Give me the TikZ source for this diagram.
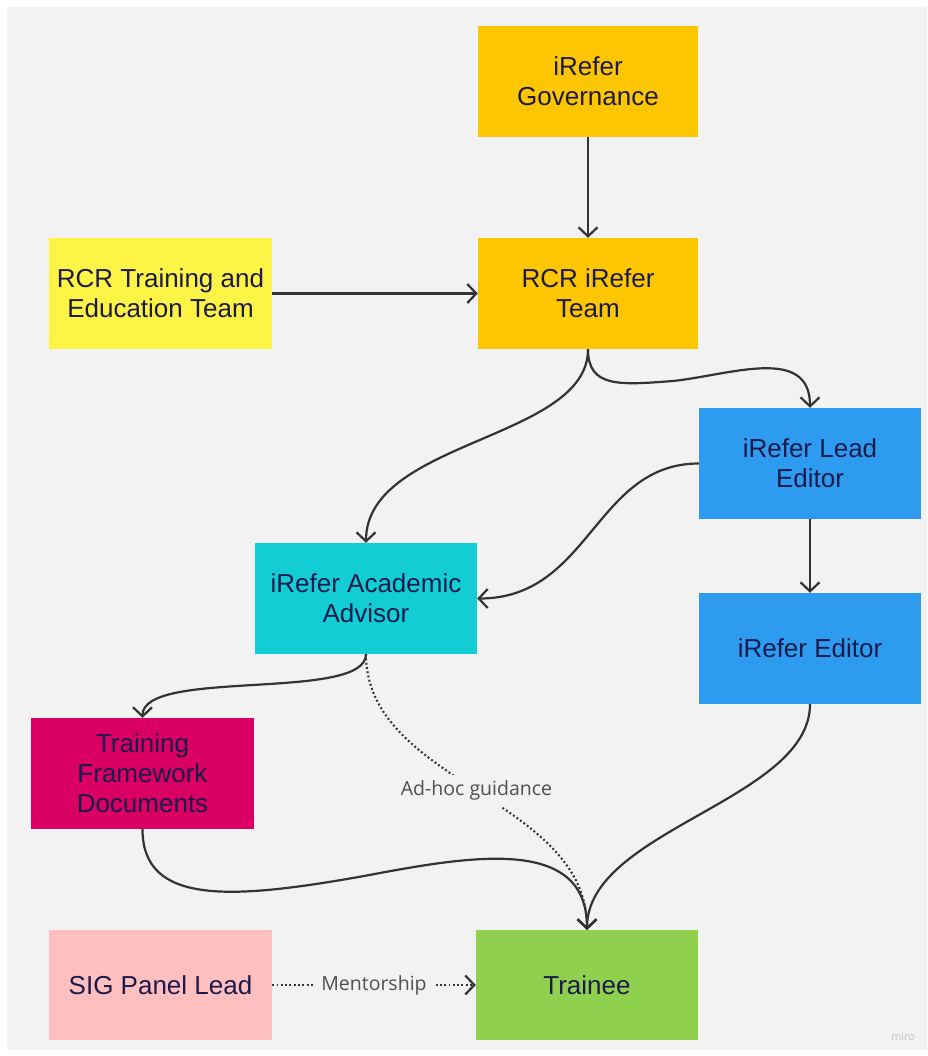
\documentclass[tikz,border=0pt]{standalone}
\usepackage{fontspec}
\setmainfont{Liberation Sans}
\newfontfamily\lblfont{Open Sans}
\usetikzlibrary{arrows.meta}
\definecolor{bg}{HTML}{F2F2F2}
\definecolor{orangey}{HTML}{FEC600}
\definecolor{yellowy}{HTML}{FEF445}
\definecolor{bluey}{HTML}{2D9BF0}
\definecolor{cyany}{HTML}{12CDD4}
\definecolor{magentay}{HTML}{DA0063}
\definecolor{pinky}{HTML}{FFBFBF}
\definecolor{greeny}{HTML}{8FD14F}
\definecolor{txt}{HTML}{1C1A4A}
\definecolor{conncol}{HTML}{333333}
\definecolor{lblcol}{HTML}{505050}
\definecolor{wm}{HTML}{C4C4C4}
\tikzset{
  box/.style={rectangle, inner sep=0pt, minimum width=222pt, minimum height=111pt,
    align=center, text=txt, font=\fontsize{26}{30}\selectfont},
  conn/.style={draw=conncol, line width=2.2pt, -{Straight Barb[length=9pt,width=19pt,line width=2.2pt]}},
  dotconn/.style={conn, line width=2.1pt, dash pattern=on 1.9pt off 2.4pt},
  lbl/.style={fill=bg, text=lblcol, font=\lblfont\fontsize{19.5}{22}\selectfont, inner sep=6pt}
}
\begin{document}
\begin{tikzpicture}[x=1pt,y=-1pt]
\useasboundingbox (0,0) rectangle (927,1056);
\fill[white] (0,0) rectangle (927,1056);
\fill[bg] (7,7) rectangle (927,1050);

\node[box, fill=orangey, minimum width=220pt] (gov) at (588,81.5) {iRefer\\Governance};
\node[box, fill=orangey, minimum width=220pt] (team) at (588,293.5) {RCR iRefer\\Team};
\node[box, fill=yellowy, minimum width=223pt] (rcrtrain) at (160.5,293.5) {RCR Training and\\Education Team};
\node[box, fill=bluey] (lead) at (810,463.5) {iRefer Lead\\Editor};
\node[box, fill=cyany] (acad) at (366,598.5) {iRefer Academic\\Advisor};
\node[box, fill=bluey] (editor) at (810,648.5) {iRefer Editor};
\node[box, fill=magentay, minimum width=223pt] (tfd) at (142.5,773.5) {Training\\Framework\\Documents};
\node[box, fill=pinky, minimum width=223pt, minimum height=110pt] (sig) at (160.5,985) {SIG Panel Lead};
\node[box, fill=greeny, minimum height=110pt] (trainee) at (587,985) {Trainee};

\node[text=wm, font=\lblfont\fontsize{11}{12}\selectfont] (miro) at (903,1037) {miro};

\coordinate (w1) at (673,381);
\coordinate (w2) at (364,876);

% straight connectors
\draw[conn] (gov.south) -- (team.north);
\draw[conn] (rcrtrain.east) -- (team.west);
\draw[conn] (lead.south) -- (editor.north);

% curved connectors
\draw[conn] (team.south) .. controls (588,388) and (620,385) .. (w1)
  .. controls (730,375) and (810,345) .. (lead.north);
\draw[conn] (team.south) .. controls (588,440) and (366,440) .. (acad.north);
\draw[conn] (lead.west) .. controls (595,463.5) and (590,598.5) .. (acad.east);
\draw[conn] (acad.south) .. controls (366,702) and (142.5,668) .. (tfd.north);
\draw[conn] (tfd.south) .. controls (142.5,905) and (230,900) .. (w2)
  .. controls (470,856) and (587,835) .. (trainee.north);
\draw[conn] (editor.south) .. controls (810,800) and (587,830) .. (trainee.north);

% dotted connectors with labels
\draw[dotconn] (acad.south) .. controls (366,783) and (587,798) .. node[lbl, pos=0.5] {Ad-hoc guidance} (trainee.north);
\draw[dotconn] (sig.east) -- node[lbl, inner sep=8pt] {Mentorship} (trainee.west);
\end{tikzpicture}
\end{document}
